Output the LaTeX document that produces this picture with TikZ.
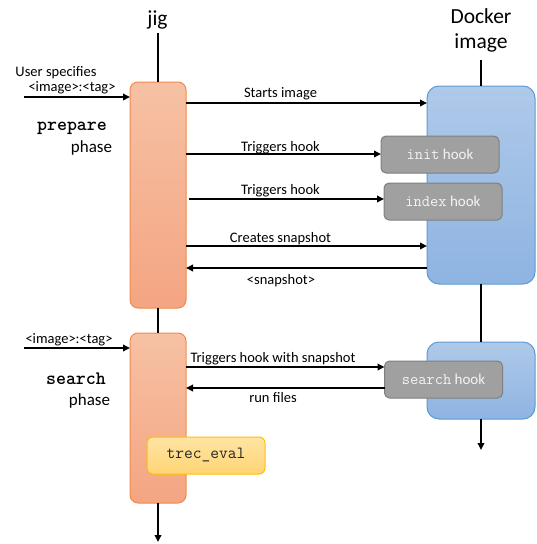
\documentclass[tikz,border=0pt]{standalone}
\usepackage{fontspec}
\setmainfont{Carlito}
\usetikzlibrary{arrows.meta}
\definecolor{orTop}{HTML}{F6C1A4}
\definecolor{orBot}{HTML}{F4A582}
\definecolor{orLine}{HTML}{F08A4B}
\definecolor{blTop}{HTML}{AFC9E9}
\definecolor{blBot}{HTML}{8EB4E2}
\definecolor{blLine}{HTML}{5B9BD5}
\definecolor{hkFill}{HTML}{A0A0A0}
\definecolor{hkLine}{HTML}{7F7F7F}
\definecolor{hkText}{HTML}{F4F4F4}
\definecolor{trTop}{HTML}{FFE4A3}
\definecolor{trBot}{HTML}{FFD575}
\definecolor{trLine}{HTML}{FFC000}
\newcommand\hkmono[1]{{\ttfamily\fontsize{16}{18}\selectfont #1}}
\tikzset{
  x=1pt, y=-1pt,
  jigbox/.style={draw=orLine, line width=1pt, top color=orTop, bottom color=orBot, rounded corners=8pt, inner sep=0pt, outer sep=0pt, minimum width=56pt},
  dockbox/.style={draw=blLine, line width=1pt, top color=blTop, bottom color=blBot, rounded corners=12pt, inner sep=0pt, outer sep=0pt, minimum width=108pt},
  hookbox/.style={draw=hkLine, line width=1pt, fill=hkFill, rounded corners=5pt, inner sep=0pt, outer sep=0pt, minimum width=118pt, minimum height=37pt, text=hkText, font=\fontsize{15}{18}\selectfont},
  trecbox/.style={draw=trLine, line width=1pt, top color=trTop, bottom color=trBot, rounded corners=6pt, inner sep=0pt, outer sep=0pt, minimum width=118pt, minimum height=37pt, text=black!85, font=\ttfamily\fontsize{17}{20}\selectfont},
  life/.style={line width=1.8pt},
  arr/.style={line width=1.8pt, -{Triangle[length=7pt,width=6.5pt]}},
  lbl/.style={font=\fontsize{14.5}{17}\selectfont, inner sep=0pt, anchor=base},
  title/.style={font=\fontsize{21.5}{25}\selectfont, inner sep=0pt, anchor=base},
  phasebold/.style={font=\ttfamily\bfseries\fontsize{19}{22}\selectfont, inner sep=0pt, anchor=base},
  phasetxt/.style={font=\fontsize{17}{20}\selectfont, inner sep=0pt, anchor=base},
}
\begin{document}
\begin{tikzpicture}
\useasboundingbox (0,0) rectangle (536,544);
% titles
\node[title] (jig) at (157.5,25) {jig};
\node[title] (dockT1) at (481,23) {Docker};
\node[title] (dockT2) at (481,48) {image};
% boxes
\node[jigbox, minimum height=226pt] (prep) at (158,195) {};
\node[jigbox, minimum height=170pt] (srch) at (158,418) {};
\node[dockbox, minimum height=198pt] (dock) at (481,185) {};
\node[dockbox, minimum height=77pt] (dock2) at (481,380.5) {};
\node[hookbox] (init) at (440,154.5) {\hkmono{init} hook};
\node[hookbox] (index) at (443,201.5) {\hkmono{index} hook};
\node[hookbox] (shook) at (443.5,379.5) {\hkmono{search} hook};
\node[trecbox] (trec) at (206,455.5) {trec\_eval};
% lifelines
\coordinate (jtop) at (158,33);
\coordinate (jbot) at (158,542);
\coordinate (dtop) at (481,60);
\coordinate (dbot) at (481,450);
\draw[life] (jtop) -- (prep.north);
\draw[life] (prep.south) -- (srch.north);
\draw[arr] (srch.south) -- (jbot);
\draw[life] (dtop) -- (dock.north);
\draw[life] (dock.south) -- (dock2.north);
\draw[arr] (dock2.south) -- (dbot);
% input arrows
\coordinate (in1) at (24,97);
\coordinate (in2) at (24,348);
\draw[arr] (in1) -- (prep.west |- in1);
\draw[arr] (in2) -- (srch.west |- in2);
\node[lbl] (us) at (56,76) {User specifies};
\node[lbl] (it1) at (72,91) {<image>:<tag>};
\node[lbl] (it2) at (69,343) {<image>:<tag>};
% phase labels
\node[phasebold] (prepT) at (72,130) {prepare};
\node[phasetxt] (prepP) at (91.5,152) {phase};
\node[phasebold] (srchT) at (76,384) {search};
\node[phasetxt] (srchP) at (89.5,405) {phase};
% messages
\coordinate (y1) at (0,103);
\coordinate (y2) at (0,154);
\coordinate (y3) at (0,199);
\coordinate (y4) at (0,246);
\coordinate (y5) at (0,268);
\coordinate (y6) at (0,367);
\coordinate (y7) at (0,388);
\draw[arr] (prep.east |- y1) -- (dock.west |- y1);
\draw[arr] (prep.east |- y2) -- (init.west |- y2);
\draw[arr] ([xshift=3pt]prep.east |- y3) -- (index.west |- y3);
\draw[arr] (prep.east |- y4) -- (dock.west |- y4);
\draw[arr] (dock.west |- y5) -- (prep.east |- y5);
\draw[arr] (srch.east |- y6) -- (shook.west |- y6);
\draw[arr] (shook.west |- y7) -- (srch.east |- y7);
\node[lbl] (m1) at (280.5,97) {Starts image};
\node[lbl] (m2) at (280.5,151) {Triggers hook};
\node[lbl] (m3) at (280.5,194) {Triggers hook};
\node[lbl] (m4) at (280.5,242) {Creates snapshot};
\node[lbl] (m5) at (281,284) {<snapshot>};
\node[lbl] (m6) at (273,362) {Triggers hook with snapshot};
\node[lbl] (m7) at (273,402) {run files};
\end{tikzpicture}
\end{document}
